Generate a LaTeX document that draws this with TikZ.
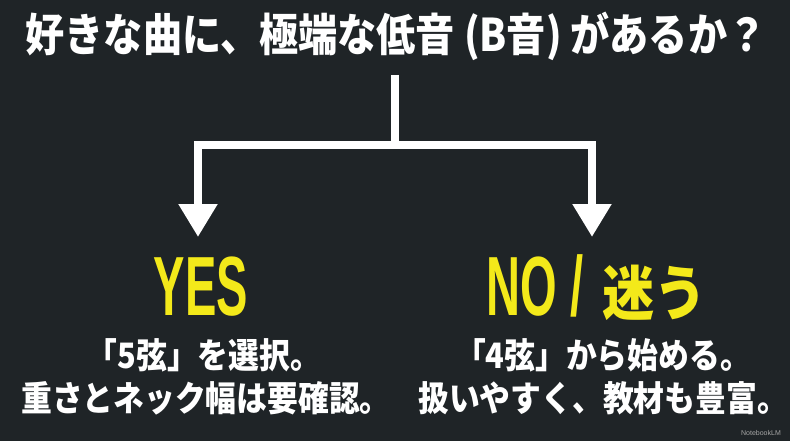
\documentclass[tikz,border=0pt]{standalone}
\usepackage{fontspec}
\usepackage{xcolor}
\usetikzlibrary{arrows.meta}
\newfontfamily\jpfont{Noto Sans CJK JP}[FakeStretch=0.87]
\newfontfamily\bodyjp{Noto Sans CJK JP}[FakeStretch=0.88]
\newfontfamily\latinbig{Liberation Sans}[FakeStretch=0.56]
\newfontfamily\markfont{Liberation Sans}
\definecolor{bgdark}{HTML}{1F2427}
\definecolor{ansyellow}{HTML}{F3E91A}
\tikzset{
    title/.style={anchor=base, text=white, inner sep=0pt, font=\jpfont\bfseries\fontsize{45}{50}\selectfont},
    answer/.style={anchor=base, text=ansyellow, inner sep=0pt, font=\latinbig\bfseries\fontsize{84}{90}\selectfont},
    bodytext/.style={anchor=base, text=white, inner sep=0pt, font=\bodyjp\bfseries\fontsize{35}{40}\selectfont},
    bar/.style={draw=white, line width=8.5pt, line join=miter},
    tip/.style={-{Triangle[width=37pt,length=33pt]}}
}

\begin{document}
\begin{tikzpicture}[x=1pt, y=-1pt]
    \fill[bgdark] (0,0) rectangle (790,441);
    \useasboundingbox (0,0) rectangle (790,441);
    % question
    \node[title] (q) at (396,52) {好きな曲に、極端な低音 (B音) があるか？};
    % branches
    \coordinate (top) at (395,75);
    \coordinate (split) at (395,145);
    \coordinate (tipyes) at (198,237);
    \coordinate (tipno) at (592,237);
    \draw[bar] (top) -- (split);
    \draw[bar, tip] (split) -| (tipyes);
    \draw[bar, tip] (split) -| (tipno);
    % answers
    \node[answer] (yes) at (201,315) {YES};
    \node[answer] (no) at (597,315) {NO / \hspace{6pt}{\jpfont\bfseries\fontsize{60}{66}\selectfont 迷う}};
    \node[bodytext] (yesA) at (204,368) {「5弦」を選択。};
    \node[bodytext] (yesB) at (206,411) {重さとネック幅は要確認。};
    \node[bodytext] (noA) at (603,368) {「4弦」から始める。};
    \node[bodytext] (noB) at (603,411) {扱いやすく、教材も豊富。};
    \node[anchor=base, text=gray!70, inner sep=0pt, font=\markfont\fontsize{7}{8}\selectfont] (mark) at (761,435) {NotebookLM};
\end{tikzpicture}
\end{document}
